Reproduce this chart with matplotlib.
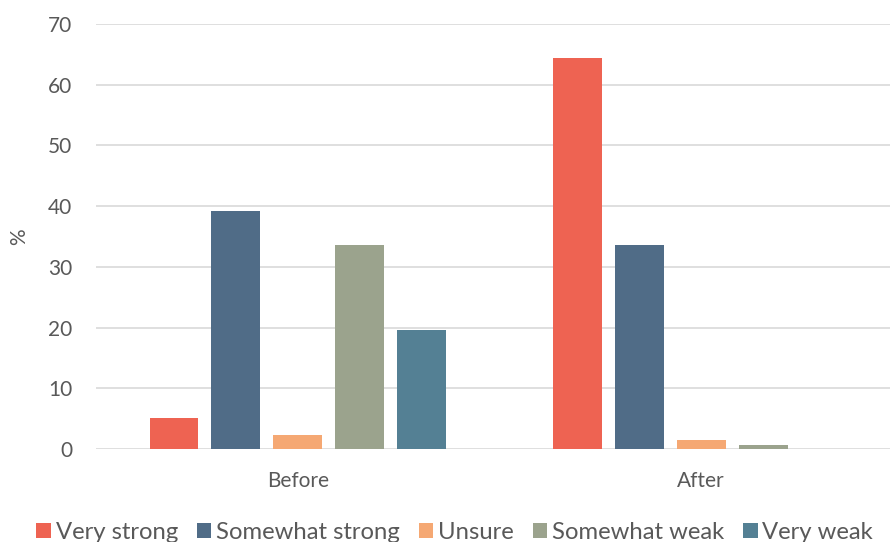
import numpy as np
import matplotlib.pyplot as plt

# Daten
categories = ['Before', 'After']
series = ['Very strong', 'Somewhat strong', 'Unsure', 'Somewhat weak', 'Very weak']
values = {
    'Very strong': [5.1, 64.4],
    'Somewhat strong': [39.2, 33.6],
    'Unsure': [2.3, 1.5],
    'Somewhat weak': [33.6, 0.6],
    'Very weak': [19.6, 0.0],
}
colors = ['#EE6352', '#506C87', '#F5A873', '#9BA38D', '#548094']

plt.rcParams['font.family'] = ['Lato', 'DejaVu Sans']
text_col = '#595959'

fig = plt.figure(figsize=(8.9, 5.42), dpi=100)
ax = fig.add_axes([0.108, 0.1716, 0.892, 0.7841])

x = np.arange(len(categories))
width = 0.121
step = 0.1535
for i, (name, col) in enumerate(zip(series, colors)):
    ax.bar(x + (i - 2) * step, values[name], width, color=col, label=name, zorder=3)

ax.set_xlim(-0.5, 1.468)
ax.set_ylim(0, 70)
ax.set_yticks(range(0, 71, 10))
ax.set_xticks(x)
ax.set_xticklabels(categories)
ax.tick_params(axis='y', length=0, pad=17, labelsize=15, labelcolor=text_col)
ax.tick_params(axis='x', length=0, pad=16, labelsize=15, labelcolor=text_col)
ax.grid(axis='y', color='#D9D9D9', linewidth=1.2, zorder=0)
for s in ax.spines.values():
    s.set_visible(False)

ax.set_ylabel('%', fontsize=15, color=text_col)
ax.yaxis.set_label_coords(-0.085, 0.5)

leg = fig.legend(loc='center', bbox_to_anchor=(0.511, 0.018), ncol=5, frameon=False,
                 fontsize=17.2, handlelength=0.6, handleheight=0.6, handletextpad=0.2,
                 columnspacing=0.8)
for t in leg.get_texts():
    t.set_color(text_col)

plt.savefig('out.png', dpi=100)
